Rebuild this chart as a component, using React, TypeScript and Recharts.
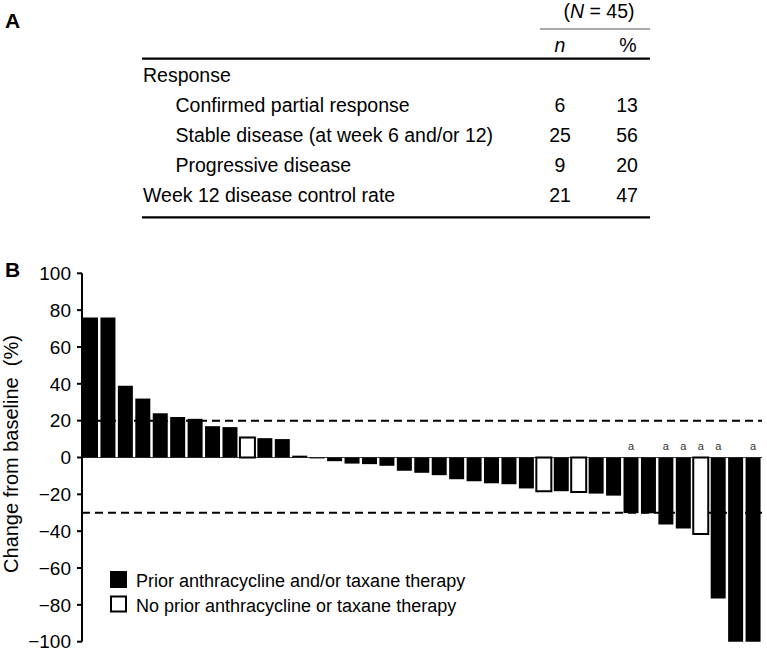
import { BarChart, Bar, XAxis, YAxis, ReferenceLine, Cell, LabelList } from 'recharts';

const FONT = "'Liberation Sans', Arial, Helvetica, sans-serif";

// Panel A: response table
const tableLabels = [
  'Response',
  'Confirmed partial response',
  'Stable disease (at week 6 and/or 12)',
  'Progressive disease',
  'Week 12 disease control rate',
];
const tableIndent = [0, 1, 1, 1, 0];
const tableN = ['', '6', '25', '9', '21'];
const tablePct = ['', '13', '56', '20', '47'];

// Panel B: best change from baseline per patient (%)
const changeFromBaseline = [
  76, 76, 39, 32, 24, 22, 21, 17, 16.5, 10.8,
  10.5, 10, 1, -0.5, -2, -3.3, -3.6, -4.5, -7.2, -8.3,
  -9.6, -11.8, -12.9, -14, -14.5, -16.8, -18.3, -18.3, -18.7, -19.6,
  -20.7, -30.2, -30.3, -36.4, -38.6, -41.5, -76.6, -100, -100,
];
// patients without prior anthracycline / taxane (open bars)
const noPriorPatients = [10, 27, 29, 36];
// patients flagged with footnote "a"
const footnotePatients = [32, 34, 35, 36, 37, 39];
const yTicks = [100, 80, 60, 40, 20, 0, -20, -40, -60, -80, -100];
const thresholds = [20, -30];
const legendLabels = [
  'Prior anthracycline and/or taxane therapy',
  'No prior anthracycline or taxane therapy',
];

const data = changeFromBaseline.map((v, i) => ({
  id: i + 1,
  change: v,
  prior: !noPriorPatients.includes(i + 1),
  mark: footnotePatients.includes(i + 1) ? 'a' : '',
}));

const fmtTick = (v: number) => (v < 0 ? `\u2212${-v}` : `${v}`);

function FootnoteLabel(props: any) {
  const vb = props.viewBox || props;
  const { x, y, width, height } = vb;
  if (!props.value) return null;
  const zeroY = Math.min(y, y + height);
  return (
    <text x={x + width / 2} y={zeroY - 8} textAnchor="middle" fontSize={11} fill="#333" fontFamily={FONT}>
      {props.value}
    </text>
  );
}

export default function App() {
  const rowY = (i: number) => 81.7 + i * 30;
  return (
    <div style={{ position: 'absolute', left: 0, top: 0, width: 767, height: 652, background: '#fff', fontFamily: FONT }}>
      <div style={{ position: 'absolute', left: 0, top: 250 }}>
        <BarChart
          width={767}
          height={402}
          data={data}
          margin={{ top: 23.3, right: 5, bottom: 10.3, left: 0 }}
          barCategoryGap={1}
        >
          <XAxis dataKey="id" hide />
          <YAxis
            domain={[-100, 100]}
            ticks={yTicks}
            interval={0}
            width={82}
            tickFormatter={fmtTick}
            tick={{ fontSize: 19, fill: '#000', fontFamily: FONT }}
            tickSize={5}
            tickMargin={6}
            axisLine={{ stroke: '#000', strokeWidth: 2 }}
            tickLine={{ stroke: '#000', strokeWidth: 2 }}
          />
          {thresholds.map((t) => (
            <ReferenceLine key={t} y={t} stroke="#000" strokeWidth={2} strokeDasharray="8 5" zIndex={100} />
          ))}
          <ReferenceLine y={0} stroke="#444" strokeWidth={1.2} zIndex={100} />
          <Bar dataKey="change" isAnimationActive={false}>
            {data.map((d) => (
              <Cell
                key={d.id}
                fill={d.prior ? '#000' : '#fff'}
                stroke={d.prior ? 'none' : '#000'}
                strokeWidth={d.prior ? 0 : 2}
              />
            ))}
            <LabelList dataKey="mark" content={FootnoteLabel} />
          </Bar>
        </BarChart>
      </div>

      <svg width={767} height={652} style={{ position: 'absolute', left: 0, top: 0, pointerEvents: 'none' }} fontFamily={FONT}>
        <text x={5} y={28} fontSize={21} fontWeight="bold">A</text>
        <text x={5} y={277} fontSize={21} fontWeight="bold">B</text>

        <text x={599} y={18.3} fontSize={19.5} textAnchor="middle">
          (<tspan fontStyle="italic">N</tspan> = 45)
        </text>
        <line x1={540} x2={650} y1={29} y2={29} stroke="#555" strokeWidth={1.2} />
        <text x={560} y={51.7} fontSize={19.5} textAnchor="middle" fontStyle="italic">n</text>
        <text x={628} y={51.7} fontSize={19.5} textAnchor="middle">%</text>
        <line x1={142} x2={650} y1={58.7} y2={58.7} stroke="#000" strokeWidth={2.2} />
        {tableLabels.map((label, i) => (
          <g key={label}>
            <text x={tableIndent[i] ? 175.5 : 143} y={rowY(i)} fontSize={19.5}>{label}</text>
            <text x={560} y={rowY(i)} fontSize={19.5} textAnchor="middle">{tableN[i]}</text>
            <text x={627} y={rowY(i)} fontSize={19.5} textAnchor="middle">{tablePct[i]}</text>
          </g>
        ))}
        <line x1={142} x2={650} y1={217.3} y2={217.3} stroke="#000" strokeWidth={2.2} />

        <text
          transform="translate(18, 454) rotate(-90)"
          textAnchor="middle"
          fontSize={20}
          style={{ whiteSpace: 'pre' }}
        >
          {'Change from baseline  (%)'}
        </text>

        {legendLabels.map((label, i) => (
          <g key={label}>
            <rect
              x={111}
              y={572 + i * 24.5}
              width={15}
              height={15}
              fill={i === 0 ? '#000' : '#fff'}
              stroke="#000"
              strokeWidth={2}
            />
            <text x={136} y={586.7 + i * 25} fontSize={18}>{label}</text>
          </g>
        ))}
      </svg>
    </div>
  );
}
